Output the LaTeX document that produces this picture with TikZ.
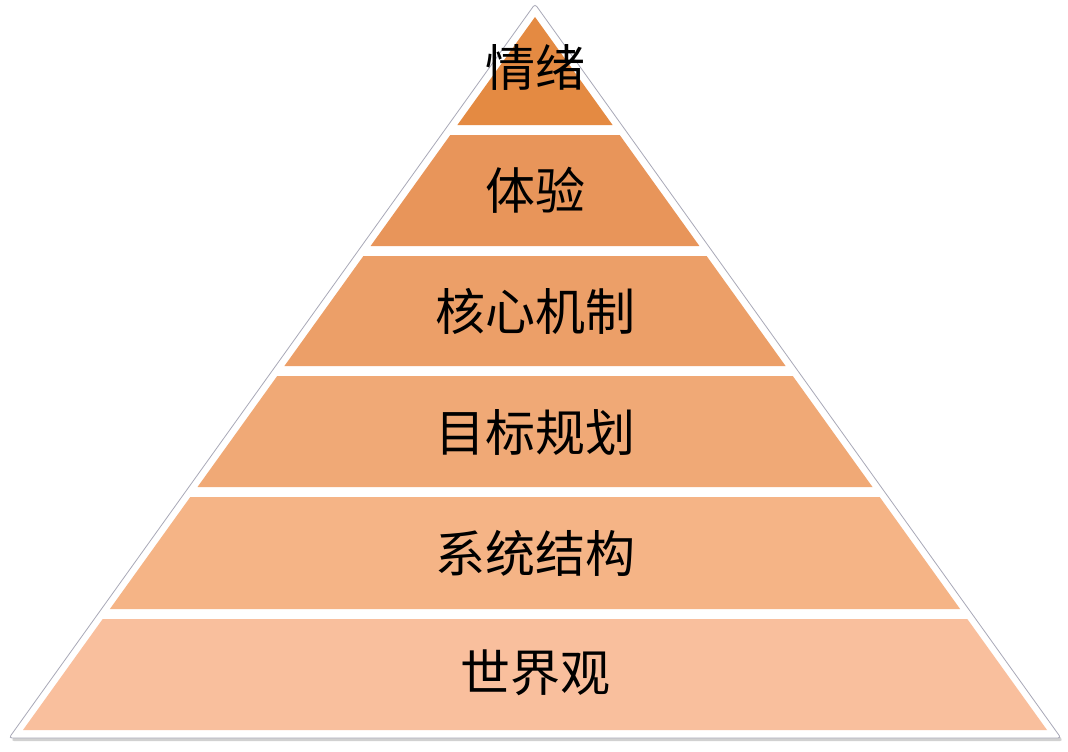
\documentclass[tikz,border=0pt]{standalone}
\usepackage{fontspec}
\newfontfamily\cjk{Noto Sans CJK SC}
\definecolor{lA}{HTML}{E48A42}
\definecolor{lB}{HTML}{E8955A}
\definecolor{lC}{HTML}{EC9F68}
\definecolor{lD}{HTML}{F0A976}
\definecolor{lE}{HTML}{F5B486}
\definecolor{lF}{HTML}{F9BF9D}
\definecolor{edgegrey}{HTML}{A9A9B8}
\tikzset{
  layertext/.style={font=\cjk\fontsize{50}{54}\selectfont, text=black, inner sep=0pt, anchor=center},
}
\begin{document}
\begin{tikzpicture}[x=1pt,y=-1pt]
\useasboundingbox (0,0) rectangle (1068,752);
\fill[white] (0,0) rectangle (1068,752);
% shadow and outer triangle
\fill[black!18, rounded corners=3pt] (536,7) -- (1063,741) -- (11,741) -- cycle;
\filldraw[fill=white, draw=edgegrey, line width=0.8pt, rounded corners=3pt] (535,4) -- (1061,738) -- (9,738) -- cycle;
% layers
\fill[lA] (535,17) -- (612.6,125) -- (457.4,125) -- cycle;
\fill[lB] (450.3,135) -- (619.7,135) -- (699.4,246) -- (370.6,246) -- cycle;
\fill[lC] (363.4,256) -- (706.6,256) -- (785.6,366) -- (284.4,366) -- cycle;
\fill[lD] (277.2,376) -- (792.8,376) -- (872.5,487) -- (197.5,487) -- cycle;
\fill[lE] (190.3,497) -- (879.7,497) -- (960.1,609) -- (109.9,609) -- cycle;
\fill[lF] (102.7,619) -- (967.3,619) -- (1047,730) -- (23,730) -- cycle;
% texts
\node[layertext] (t1) at (535,67) {情绪};
\node[layertext] (t2) at (535,190) {体验};
\node[layertext] (t3) at (535,311) {核心机制};
\node[layertext] (t4) at (535,432) {目标规划};
\node[layertext] (t5) at (535,553) {系统结构};
\node[layertext] (t6) at (535,673) {世界观};
\end{tikzpicture}
\end{document}
